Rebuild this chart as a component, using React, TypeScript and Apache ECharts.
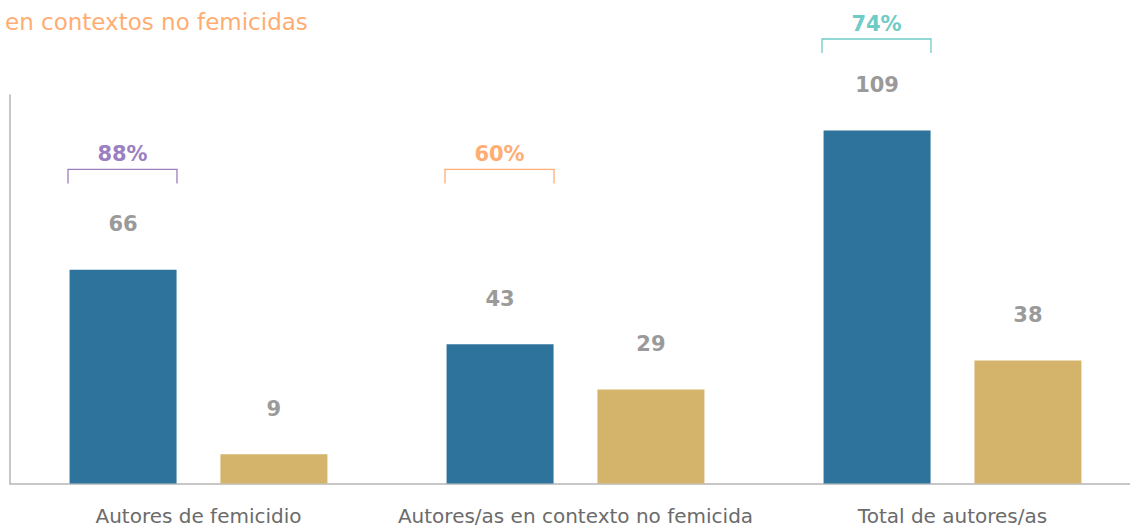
import React, { useEffect, useRef } from "react";
import * as echarts from "echarts";

const categories = ["Autores de femicidio", "Autores/as en contexto no femicida", "Total de autores/as"];
const blueValues = [66, 43, 109];
const goldValues = [9, 29, 38];
const bracketLabels = ["88%", "60%", "74%"];
const bracketLevels = [97, 97, 137.3];
const bracketColors = ["#9b7fc0", "#ffad73", "#6fcbc6"];
const titleText = "en contextos no femicidas";

export default function App() {
  const ref = useRef<HTMLDivElement>(null);
  useEffect(() => {
    if (!ref.current) return;
    const chart = echarts.init(ref.current, null, { renderer: "svg" });
    const font = "'DejaVu Sans', sans-serif";
    const labelStyle = {
      show: true,
      position: "top",
      distance: 35,
      color: "#9a9a9a",
      fontSize: 21,
      fontWeight: "bold",
      fontFamily: font,
    };
    chart.setOption({
      animation: false,
      title: {
        text: titleText,
        left: 5,
        top: 10,
        padding: 0,
        textStyle: { color: "#ffad73", fontSize: 23, fontWeight: "normal", fontFamily: font },
      },
      grid: {
        left: 10,
        width: 1131,
        top: 95,
        bottom: 42.5,
        containLabel: false,
        outerBoundsMode: "none",
      },
      xAxis: {
        type: "category",
        data: categories,
        axisLine: { show: true, lineStyle: { color: "#b5b5b5", width: 1.5 } },
        axisTick: { show: false },
        axisLabel: {
          color: "#6b6b6b",
          fontSize: 20,
          lineHeight: 20,
          fontFamily: font,
          margin: 22,
          interval: 0,
        },
      },
      yAxis: {
        type: "value",
        min: 0,
        max: 120,
        axisLine: { show: true, lineStyle: { color: "#b5b5b5", width: 1.5 } },
        axisTick: { show: false },
        axisLabel: { show: false },
        splitLine: { show: false },
      },
      series: [
        {
          type: "bar",
          data: blueValues,
          barWidth: 107,
          barGap: "41%",
          itemStyle: { color: "#2e739c" },
          label: labelStyle,
        },
        {
          type: "bar",
          data: goldValues,
          barWidth: 107,
          itemStyle: { color: "#d4b36a" },
          label: labelStyle,
        },
        {
          type: "custom",
          data: bracketLevels.map((v, i) => [i, v]),
          renderItem: (params: any, api: any) => {
            const i = params.dataIndex;
            const p = api.coord([api.value(0), api.value(1)]);
            const cx = p[0] - 76;
            const y = p[1];
            const hw = 54.5;
            const color = bracketColors[i];
            return {
              type: "group",
              children: [
                {
                  type: "polyline",
                  shape: { points: [[cx - hw, y + 14], [cx - hw, y], [cx + hw, y], [cx + hw, y + 14]] },
                  style: { stroke: color, fill: "none", lineWidth: 1.3 },
                },
                {
                  type: "text",
                  x: cx,
                  y: y - 15,
                  style: {
                    text: bracketLabels[i],
                    fill: color,
                    fontSize: 21,
                    fontWeight: "bold",
                    fontFamily: font,
                    align: "center",
                    verticalAlign: "middle",
                  },
                },
              ],
            };
          },
          z: 5,
        },
      ],
    });
    return () => chart.dispose();
  }, []);
  return (
    <div
      ref={ref}
      style={{ position: "absolute", left: 0, top: 0, width: 1130, height: 526, background: "#fff" }}
    />
  );
}
